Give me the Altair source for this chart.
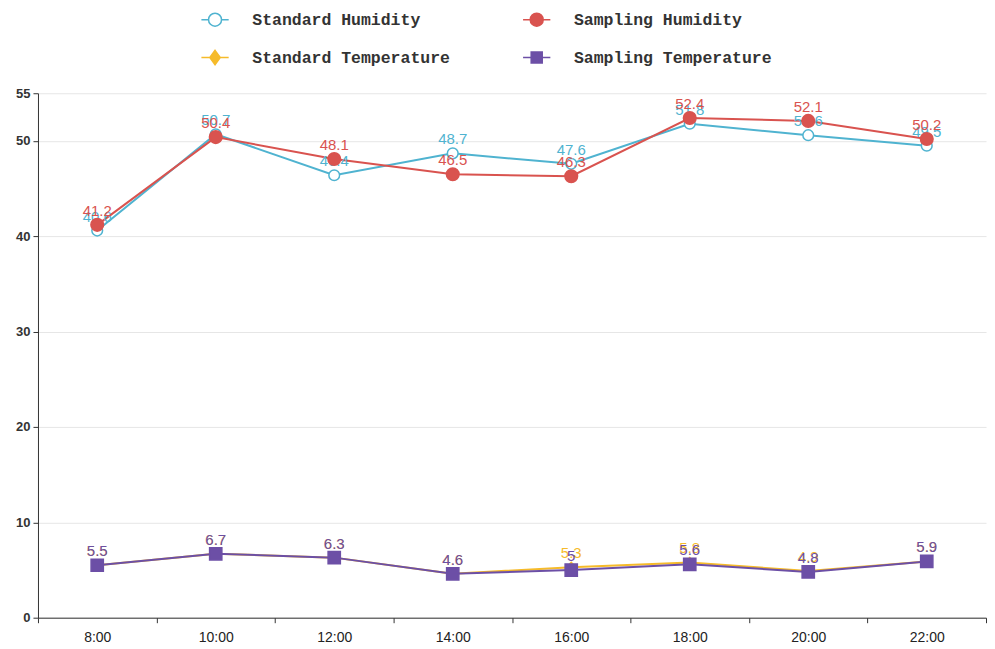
import altair as alt
import pandas as pd

times = ["8:00", "10:00", "12:00", "14:00", "16:00", "18:00", "20:00", "22:00"]
series_names = ["Standard Humidity", "Sampling Humidity", "Standard Temperature", "Sampling Temperature"]
standard_humidity = [40.6, 50.7, 46.4, 48.7, 47.6, 51.8, 50.6, 49.5]
sampling_humidity = [41.2, 50.4, 48.1, 46.5, 46.3, 52.4, 52.1, 50.2]
standard_temperature = [5.5, 6.7, 6.3, 4.6, 5.3, 5.8, 4.9, 5.9]
sampling_temperature = [5.5, 6.7, 6.3, 4.6, 5.0, 5.6, 4.8, 5.9]
y_ticks = [0, 10, 20, 30, 40, 50, 55]

stroke_colors = ["#4fb3d0", "#d9534f", "#f6bb2a", "#6c4fa6"]
fill_colors = ["#ffffff", "#d9534f", "#f6bb2a", "#6c4fa6"]
point_shapes = ["circle", "circle", "diamond", "square"]
point_sizes = [115, 160, 90, 150]

legend_shapes = [
    "M-2.1,0L-1,0M1,0L2.1,0M-1,0A1,1,0,1,1,1,0A1,1,0,1,1,-1,0Z",
    "M-2.1,0L-1,0M1,0L2.1,0M-1,0A1,1,0,1,1,1,0A1,1,0,1,1,-1,0Z",
    "M-2.1,0L-0.8,0M0.8,0L2.1,0M0,-1.1L0.8,0L0,1.1L-0.8,0Z",
    "M-2.1,0L-0.85,0M0.85,0L2.1,0M-0.85,-0.85L0.85,-0.85L0.85,0.85L-0.85,0.85Z",
]
# legend fills column by column: put the two "Standard" entries in the first column
legend_order = [0, 2, 1, 3]
legend_domain = [series_names[k] for k in legend_order]
legend_shape_range = [legend_shapes[k] for k in legend_order]
legend_fill_range = [fill_colors[k] for k in legend_order]
legend_stroke_range = [stroke_colors[k] for k in legend_order]

all_values = [standard_humidity, sampling_humidity, standard_temperature, sampling_temperature]
rows = []
for name, vals in zip(series_names, all_values):
    for t, v in zip(times, vals):
        rows.append({"time": t, "series": name, "value": v, "label": f"{v:g}"})
df = pd.DataFrame(rows)

x_enc = alt.X(
    "time:N",
    sort=times,
    scale=alt.Scale(type="band", paddingInner=0, paddingOuter=0),
    axis=alt.Axis(
        title=None, labelAngle=0, tickBand="extent", grid=False,
        labelFont="Liberation Sans Narrow, Arial Narrow, Liberation Sans",
        labelFontSize=14, labelColor="#222222", labelPadding=8,
        domainColor="#333333", tickColor="#333333", tickSize=5,
    ),
)
y_enc = alt.Y(
    "value:Q",
    scale=alt.Scale(domain=[0, 55], nice=False),
    axis=alt.Axis(
        title=None, values=y_ticks, grid=True, gridColor="#e6e6e6",
        labelFont="Liberation Sans", labelFontWeight="bold", labelFontSize=13,
        labelColor="#333333", labelPadding=3,
        domainColor="#333333", tickColor="#333333", tickSize=5,
    ),
)

base = alt.Chart(df)
layers = []
for i, name in enumerate(series_names):
    layers.append(
        base.transform_filter(alt.datum.series == name)
        .mark_line(color=stroke_colors[i], strokeWidth=2)
        .encode(x=x_enc, y=y_enc)
    )
for i, name in enumerate(series_names):
    layers.append(
        base.transform_filter(alt.datum.series == name)
        .mark_point(shape=point_shapes[i], size=point_sizes[i], stroke=stroke_colors[i],
                    fill=fill_colors[i], filled=False, strokeWidth=1.5, opacity=1, fillOpacity=1)
        .encode(x=x_enc, y=y_enc)
    )
    layers.append(
        base.transform_filter(alt.datum.series == name)
        .mark_text(color=stroke_colors[i], font="Liberation Sans", fontSize=15,
                   baseline="alphabetic", dy=-9)
        .encode(x=x_enc, y=y_enc, text="label:N")
    )

legend_layer = base.mark_point(opacity=0).encode(
    x=x_enc,
    y=y_enc,
    shape=alt.Shape("series:N", scale=alt.Scale(domain=legend_domain, range=legend_shape_range),
                    legend=alt.Legend(title=None)),
    fill=alt.Fill("series:N", scale=alt.Scale(domain=legend_domain, range=legend_fill_range),
                  legend=alt.Legend(title=None)),
    stroke=alt.Stroke("series:N", scale=alt.Scale(domain=legend_domain, range=legend_stroke_range),
                      legend=alt.Legend(title=None)),
)

chart = alt.layer(*layers, legend_layer).properties(
    width=949, height=525,
    padding={"left": 7, "top": 3, "right": 0, "bottom": 2},
).configure_view(stroke=None).configure_legend(
    orient="none", legendX=169, legendY=-82, columns=2,
    columnPadding=69, rowPadding=18,
    symbolSize=169, symbolStrokeWidth=1.5, symbolOpacity=1,
    labelFont="Liberation Mono", labelFontWeight="bold", labelFontSize=16.5,
    labelColor="#333333", labelOffset=29, labelLimit=400,
)

chart.save("out.html", embed_options={"renderer": "svg", "actions": False})
